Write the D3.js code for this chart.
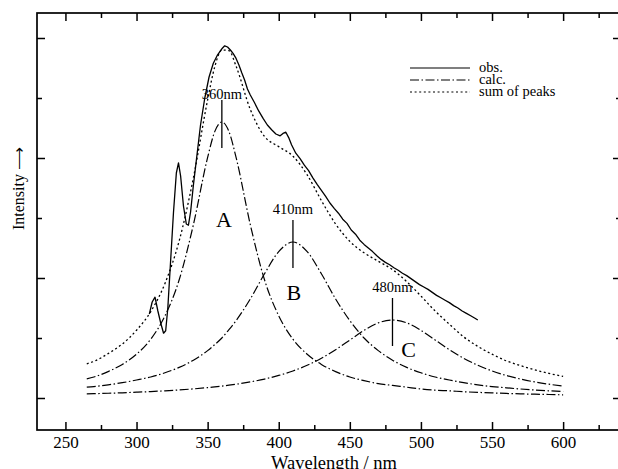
<!DOCTYPE html>
<html>
<head>
<meta charset="utf-8">
<script src="https://cdn.jsdelivr.net/npm/d3@7"></script>
<style>
  body { margin: 0; background: #fff; }
  svg { display: block; }
  text { font-family: "Liberation Serif", "Times New Roman", serif; fill: #000; }
</style>
</head>
<body>
<svg id="chart" width="618" height="469"></svg>
<script>
// wavelength grid of the fitted peaks (nm)
var wl = [265,270,280,290,300,310,320,330,340,350,355,360,365,370,380,390,400,410,420,430,440,450,460,470,480,490,500,510,520,530,540,550,560,570,580,590,600];
var peakA = [0.32,0.35,0.44,0.56,0.73,0.98,1.37,1.97,2.89,4.01,4.44,4.60,4.44,4.01,2.89,1.97,1.37,0.98,0.73,0.56,0.44,0.35,0.29,0.24,0.21,0.18,0.15,0.13,0.12,0.105,0.094,0.085,0.076,0.069,0.063,0.058,0.053];
var peakB = [0.18,0.19,0.22,0.255,0.30,0.35,0.42,0.51,0.63,0.79,0.89,1.00,1.14,1.29,1.65,2.07,2.44,2.60,2.44,2.07,1.65,1.29,1.00,0.79,0.63,0.51,0.42,0.35,0.30,0.255,0.22,0.19,0.17,0.15,0.134,0.12,0.108];
var peakC = [0.069,0.072,0.079,0.087,0.097,0.107,0.12,0.135,0.152,0.173,0.186,0.199,0.214,0.23,0.268,0.316,0.376,0.451,0.545,0.663,0.805,0.966,1.127,1.252,1.30,1.252,1.127,0.966,0.805,0.663,0.545,0.451,0.376,0.316,0.268,0.23,0.199];
var sumPeaks = [0.57,0.61,0.74,0.90,1.13,1.44,1.91,2.62,3.67,4.97,5.52,5.80,5.79,5.53,4.81,4.36,4.19,4.03,3.72,3.29,2.90,2.61,2.42,2.28,2.14,1.94,1.70,1.45,1.23,1.02,0.86,0.73,0.62,0.54,0.47,0.41,0.36];

// observed spectrum
var obsWl = [309,311,313,315,317,319,320.5,322,324,326,328,329.5,331,333,335,336.5,338,340,342,345,348,351,354,357,360,362,364,366,368,370,372,374,376,378,380,383,386,389,392,395,398,401,403,405,407,409,412,415,418,421,424,427,430,433,436,439,442,445,448,451,454,457,460,463,466,469,472,475,478,481,484,487,490,493,496,499,502,505,508,511,514,517,520,523,526,529,532,535,538,540];
var obsI = [1.40,1.60,1.68,1.45,1.25,1.08,1.12,1.50,2.30,3.10,3.75,3.92,3.70,3.20,2.90,2.88,3.10,3.55,3.95,4.55,5.00,5.35,5.58,5.72,5.82,5.87,5.85,5.80,5.74,5.66,5.55,5.42,5.30,5.15,5.05,4.92,4.78,4.66,4.55,4.47,4.40,4.37,4.41,4.43,4.34,4.22,4.08,3.99,3.88,3.79,3.67,3.56,3.46,3.36,3.25,3.16,3.08,2.98,2.91,2.80,2.73,2.63,2.56,2.50,2.44,2.37,2.31,2.26,2.22,2.17,2.13,2.08,2.04,1.99,1.94,1.89,1.85,1.81,1.76,1.71,1.67,1.63,1.59,1.54,1.50,1.45,1.41,1.37,1.33,1.30];

var peakWl = [360, 410, 480];
var peakText = ["360nm", "410nm", "480nm"];
var peakName = ["A", "B", "C"];

var xMajor = [250,300,350,400,450,500,550,600];
var xMinor = [275,325,375,425,475,525,575,625];
var yMajor = [0,2,4,6];
var yMinor = [1,3,5];

var legendNames = ["obs.", "calc.", "sum of peaks"];

var svg = d3.select("#chart");

var x = d3.scaleLinear().domain([230, 640]).range([37, 620]);
var y = d3.scaleLinear().domain([-0.5333, 6.4167]).range([430, 13]);
var rightEdge = 622;

var dashCalc = "9,2.5,1.5,2.5",
	dashSum = "2,2.6";

function noDomain(g) { g.select(".domain").remove(); }

// ticks, all pointing inwards
svg.append("g").attr("transform", "translate(0,430)")
	.call(d3.axisBottom(x).tickValues(xMajor).tickSize(-8).tickPadding(6).tickFormat(d3.format("d")))
	.call(noDomain)
	.call(function(g) {
		g.selectAll("text").style("font-size", "17px").style("font-family", '"Liberation Serif", serif');
	});
svg.append("g").attr("transform", "translate(0,430)")
	.call(d3.axisBottom(x).tickValues(xMinor).tickSize(-5).tickFormat(""))
	.call(noDomain);
svg.append("g").attr("transform", "translate(0,13)")
	.call(d3.axisTop(x).tickValues(xMajor).tickSize(-8).tickFormat(""))
	.call(noDomain);
svg.append("g").attr("transform", "translate(0,13)")
	.call(d3.axisTop(x).tickValues(xMinor).tickSize(-5).tickFormat(""))
	.call(noDomain);
svg.append("g").attr("transform", "translate(37,0)")
	.call(d3.axisLeft(y).tickValues(yMajor).tickSize(-8).tickFormat(""))
	.call(noDomain);
svg.append("g").attr("transform", "translate(37,0)")
	.call(d3.axisLeft(y).tickValues(yMinor).tickSize(-5).tickFormat(""))
	.call(noDomain);
svg.append("g").attr("transform", "translate(" + rightEdge + ",0)")
	.call(d3.axisRight(y).tickValues(yMajor).tickSize(-9).tickFormat(""))
	.call(noDomain);
svg.append("g").attr("transform", "translate(" + rightEdge + ",0)")
	.call(d3.axisRight(y).tickValues(yMinor).tickSize(-6).tickFormat(""))
	.call(noDomain);
svg.selectAll(".tick line").attr("stroke", "#000").attr("stroke-width", 1.5);

// frame
svg.append("rect")
	.attr("x", x(230)).attr("y", y(6.4167))
	.attr("width", rightEdge - x(230)).attr("height", y(-0.5333) - y(6.4167))
	.attr("fill", "none").attr("stroke", "#000").attr("stroke-width", 1.7);

// curves
var smooth = d3.line()
	.x(function(d) { return x(d[0]); })
	.y(function(d) { return y(d[1]); })
	.curve(d3.curveMonotoneX);
var plain = d3.line()
	.x(function(d) { return x(d[0]); })
	.y(function(d) { return y(d[1]); });

[peakA, peakB, peakC].forEach(function(p) {
	svg.append("path")
		.datum(d3.zip(wl, p))
		.attr("d", smooth)
		.attr("fill", "none").attr("stroke", "#000").attr("stroke-width", 1.2)
		.attr("stroke-dasharray", dashCalc);
});

svg.append("path")
	.datum(d3.zip(wl, sumPeaks))
	.attr("d", smooth)
	.attr("fill", "none").attr("stroke", "#000").attr("stroke-width", 1.3)
	.attr("stroke-dasharray", dashSum);

svg.append("path")
	.datum(d3.zip(obsWl, obsI))
	.attr("d", plain)
	.attr("fill", "none").attr("stroke", "#000").attr("stroke-width", 1.3)
	.attr("stroke-linejoin", "round");

// peak markers and labels
var peaks = [peakA, peakB, peakC];
var letterOff = [105, 58, 37],   // px below the peak top
	letterDx = [2, 1, 16],
	textGap = [1, 6, 6];
peakWl.forEach(function(w, i) {
	var h = peaks[i][wl.indexOf(w)],
		px = x(w), py = y(h);
	svg.append("line")
		.attr("x1", px).attr("x2", px)
		.attr("y1", py - 22).attr("y2", py + 26)
		.attr("stroke", "#000").attr("stroke-width", 1.3);
	svg.append("text")
		.attr("x", px).attr("y", py - 22 - textGap[i])
		.attr("text-anchor", "middle")
		.style("font-size", "14.5px")
		.text(peakText[i]);
	svg.append("text")
		.attr("x", px + letterDx[i]).attr("y", py + letterOff[i])
		.attr("text-anchor", "middle")
		.style("font-size", "22px")
		.text(peakName[i]);
});

// legend
var legendDash = [null, dashCalc, dashSum];
legendNames.forEach(function(n, i) {
	var ly = 68 + i * 12;
	svg.append("line")
		.attr("x1", 410).attr("x2", 470).attr("y1", ly).attr("y2", ly)
		.attr("stroke", "#000").attr("stroke-width", 1.2)
		.attr("stroke-dasharray", legendDash[i]);
	svg.append("text")
		.attr("x", 479).attr("y", ly + 4)
		.style("font-size", "14.5px")
		.text(n);
});

// axis titles
svg.append("text")
	.attr("x", 334).attr("y", 469)
	.attr("text-anchor", "middle")
	.style("font-size", "18.5px")
	.text("Wavelength / nm");

svg.append("text")
	.attr("transform", "translate(24,230) rotate(-90)")
	.style("font-size", "16px")
	.text("Intensity \u27F6");
</script>
</body>
</html>
